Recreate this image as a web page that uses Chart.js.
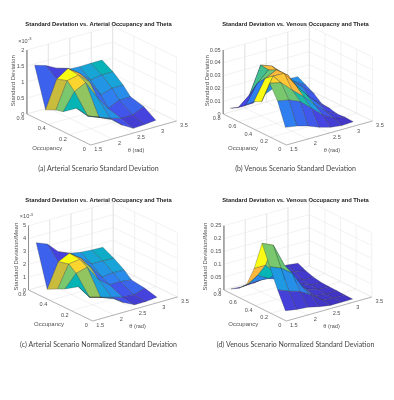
<!DOCTYPE html>
<html>
<head>
<meta charset="utf-8">
<script src="https://cdn.jsdelivr.net/npm/chart.js@4"></script>
<style>
html, body { margin: 0; background: #fff; }
canvas { position: absolute; }
</style>
</head>
<body>
<canvas id="panelA" width="197" height="176" style="left:0;top:0"></canvas>
<canvas id="panelB" width="197" height="176" style="left:197px;top:0"></canvas>
<canvas id="panelC" width="197" height="176" style="left:0;top:176px"></canvas>
<canvas id="panelD" width="197" height="176" style="left:197px;top:176px"></canvas>
<script>
// measured grid
const thetaValues = [1.571, 1.833, 2.094, 2.356, 2.618, 2.880, 3.142];
const occArterial = [0.05, 0.1625, 0.2875, 0.356, 0.453, 0.556];
const occVenous = [0.05, 0.15, 0.25, 0.35, 0.45, 0.55, 0.65, 0.75];

const thetaTicks = [1.5, 2, 2.5, 3, 3.5];
const occTicksArterial = [0, 0.2, 0.4, 0.6];
const occTicksVenous = [0, 0.2, 0.4, 0.6, 0.8];
const zTicksA = [0, 0.5, 1, 1.5, 2];
const zTicksB = [0, 0.01, 0.02, 0.03, 0.04, 0.05];
const zTicksC = [0, 1, 2, 3, 4, 5];
const zTicksD = [0, 0.05, 0.1, 0.15, 0.2, 0.25];

// std dev, rows = occupancy, columns = theta
const zA = [
    [0.78, 0.66, 0.50, 0.22, 0.02, 0.04, 0.08],
    [0.86, 0.52, 0.38, 0.25, 0.15, 0.16, 0.32],
    [0.55, 1.08, 1.26, 0.72, 0.26, 0.42, 0.43],
    [0.49, 1.31, 1.39, 1.08, 0.57, 0.68, 0.68],
    [0.34, 1.20, 1.44, 1.19, 0.88, 0.94, 0.94],
    [1.57, 1.46, 1.28, 1.15, 1.13, 1.14, 1.14]
];
const zB = [
    [0.0116, 0.0102, 0.0078, 0.0043, 0.0018, 0.0007, 0.0013],
    [0.0292, 0.0275, 0.0238, 0.0161, 0.0084, 0.0034, 0.0017],
    [0.0400, 0.0380, 0.0298, 0.0222, 0.0132, 0.0056, 0.0013],
    [0.0226, 0.0402, 0.0398, 0.0283, 0.0180, 0.0090, 0.0027],
    [0.0196, 0.0353, 0.0394, 0.0331, 0.0189, 0.0099, 0.0035],
    [0.0140, 0.0284, 0.0364, 0.0313, 0.0224, 0.0159, 0.0083],
    [0.0088, 0.0162, 0.0372, 0.0340, 0.0258, 0.0168, 0.0118],
    [0.0053, 0.0041, 0.0043, 0.0083, 0.0124, 0.0157, 0.0153]
];
const zC = [
    [1.57, 1.33, 1.00, 0.43, 0.02, 0.02, 0.11],
    [1.95, 0.88, 0.63, 0.39, 0.15, 0.09, 0.36],
    [1.27, 2.24, 2.47, 1.29, 0.61, 0.62, 0.51],
    [0.99, 2.69, 2.81, 1.94, 0.93, 1.04, 1.00],
    [0.58, 2.48, 2.89, 2.26, 1.57, 1.56, 1.53],
    [3.79, 3.44, 2.60, 2.23, 2.07, 2.00, 1.97]
];
const zD = [
    [0.029, 0.022, 0.018, 0.008, 0.001, 0.001, 0.001],
    [0.095, 0.078, 0.064, 0.039, 0.007, 0.002, 0.002],
    [0.170, 0.152, 0.120, 0.050, 0.008, 0.002, 0.003],
    [0.246, 0.227, 0.137, 0.060, 0.019, 0.006, 0.004],
    [0.134, 0.134, 0.090, 0.052, 0.027, 0.008, 0.005],
    [0.054, 0.080, 0.055, 0.039, 0.025, 0.012, 0.011],
    [0.026, 0.033, 0.034, 0.037, 0.035, 0.030, 0.021],
    [0.008, 0.005, 0.006, 0.017, 0.033, 0.040, 0.035]
];

// colour level of each facet, 0..1 along the colormap
const levelA = [
    [0.40, 0.35, 0.28, 0.14, 0.08, 0.10],
    [0.47, 0.66, 0.36, 0.30, 0.15, 0.19],
    [0.62, 0.93, 0.68, 0.20, 0.25, 0.29],
    [0.75, 1.00, 0.87, 0.28, 0.32, 0.37],
    [0.18, 0.10, 0.18, 0.32, 0.38, 0.46]
];
const levelB = [
    [0.25, 0.20, 0.16, 0.11, 0.08, 0.06],
    [0.62, 0.60, 0.50, 0.33, 0.15, 0.09],
    [0.93, 0.90, 0.87, 0.50, 0.22, 0.11],
    [1.00, 0.87, 0.87, 0.47, 0.20, 0.13],
    [0.25, 0.60, 0.87, 0.87, 0.30, 0.16],
    [0.12, 0.55, 0.88, 0.85, 0.30, 0.20],
    [0.06, 0.08, 0.30, 0.30, 0.32, 0.30]
];
const levelC = [
    [0.40, 0.35, 0.28, 0.14, 0.08, 0.10],
    [0.47, 0.66, 0.36, 0.30, 0.15, 0.19],
    [0.62, 0.93, 0.68, 0.20, 0.25, 0.29],
    [0.75, 1.00, 0.87, 0.28, 0.32, 0.37],
    [0.18, 0.10, 0.18, 0.32, 0.38, 0.42]
];
const levelD = [
    [0.09, 0.08, 0.07, 0.06, 0.05, 0.05],
    [0.33, 0.30, 0.26, 0.13, 0.06, 0.05],
    [0.62, 0.60, 0.47, 0.20, 0.07, 0.06],
    [1.00, 0.62, 0.38, 0.15, 0.07, 0.06],
    [0.87, 0.47, 0.25, 0.12, 0.08, 0.07],
    [0.42, 0.28, 0.20, 0.12, 0.08, 0.07],
    [0.09, 0.08, 0.07, 0.08, 0.08, 0.07]
];

const titles = [
    "Standard Deviation vs. Arterial Occupancy and Theta",
    "Standard Deviation vs. Venous Occupacny and Theta",
    "Standard Deviation vs. Arterial Occupancy and Theta",
    "Standard Deviation vs. Venous Occupacny and Theta"
];
const captions = [
    "(a) Arterial Scenario Standard Deviation",
    "(b) Venous Scenario Standard Deviation",
    "(c) Arterial Scenario Normalized Standard Deviation",
    "(d) Venous Scenario Normalized Standard Deviation"
];

const colorStops = [
    [0, 62, 38, 168], [0.12, 71, 72, 232], [0.25, 47, 127, 240], [0.35, 28, 159, 224],
    [0.47, 5, 181, 181], [0.62, 122, 200, 110], [0.75, 201, 188, 60],
    [0.87, 254, 184, 60], [0.93, 251, 213, 46], [1, 249, 251, 21]
];

function levelColor(t) {
    let k = 0;
    while (k < colorStops.length - 2 && t > colorStops[k + 1][0]) k++;
    const a = colorStops[k], b = colorStops[k + 1];
    const f = (t - a[0]) / (b[0] - a[0]);
    const c = [1, 2, 3].map(n => Math.round(a[n] + (b[n] - a[n]) * f));
    return `rgb(${c[0]},${c[1]},${c[2]})`;
}

function drawPanel(id, cfg) {
    const { box, occ, occTicks, occMax, zTicks, zMax, z, level, yLabel, exponent, title, caption } = cfg;

    const project = (theta, o, val) => {
        const u = (theta - 1.5) / 2, v = o / occMax, w = val / zMax;
        return {
            x: box.front[0] + u * (box.right[0] - box.front[0]) + v * (box.left[0] - box.front[0]),
            y: box.front[1] + u * (box.right[1] - box.front[1]) + v * (box.left[1] - box.front[1]) - w * box.height
        };
    };
    const polyline = (data, color, width, order) => ({
        type: 'line', data, borderColor: color, borderWidth: width, pointRadius: 0,
        fill: false, tension: 0, clip: false, order
    });

    const datasets = [];

    // facets, nearest first since chart.js paints the first dataset last
    for (let i = 0; i < occ.length - 1; i++) {
        for (let j = 0; j < thetaValues.length - 1; j++) {
            datasets.push({
                type: 'line',
                data: [
                    project(thetaValues[j], occ[i], z[i][j]),
                    project(thetaValues[j + 1], occ[i], z[i][j + 1]),
                    project(thetaValues[j + 1], occ[i + 1], z[i + 1][j + 1]),
                    project(thetaValues[j], occ[i + 1], z[i + 1][j]),
                    project(thetaValues[j], occ[i], z[i][j])
                ],
                backgroundColor: levelColor(level[i][j]),
                borderColor: 'rgba(30,30,30,0.5)',
                borderWidth: 0.5,
                pointRadius: 0,
                tension: 0,
                fill: 'shape',
                clip: false,
                order: 1
            });
        }
    }

    // axis lines
    datasets.push(polyline([project(1.5, occMax, zMax), project(1.5, occMax, 0), project(1.5, 0, 0), project(3.5, 0, 0)], '#8a8a8a', 0.6, 2));

    // walls and floor
    const gridColor = '#e4e4e4';
    zTicks.forEach(t => {
        datasets.push(polyline([project(1.5, occMax, t), project(3.5, occMax, t), project(3.5, 0, t)], gridColor, 0.5, 3));
    });
    thetaTicks.forEach(t => {
        datasets.push(polyline([project(t, occMax, zMax), project(t, occMax, 0), project(t, 0, 0)], gridColor, 0.5, 3));
    });
    occTicks.forEach(t => {
        datasets.push(polyline([project(1.5, t, 0), project(3.5, t, 0), project(3.5, t, zMax)], gridColor, 0.5, 3));
    });

    const axisText = {
        id: 'axisText',
        afterDraw(chart) {
            const { ctx, scales } = chart;
            const put = (text, p, dx, dy, align, size) => {
                ctx.textAlign = align;
                ctx.font = `${size || 5.6}px "Liberation Sans"`;
                ctx.fillText(text, scales.x.getPixelForValue(p.x) + dx, scales.y.getPixelForValue(p.y) + dy);
            };
            ctx.save();
            ctx.fillStyle = '#505050';
            ctx.textBaseline = 'middle';
            thetaTicks.forEach(t => put(String(t), project(t, 0, 0), 7.5, 4.5, 'center'));
            occTicks.forEach(t => put(String(t), project(1.5, t, 0), -6.5, 4.5, 'center'));
            zTicks.forEach(t => put(String(t), project(1.5, occMax, t), -2.5, 0, 'right'));
            put('θ (rad)', project(2.5, 0, 0), 2.5, 17, 'center');
            put('Occupancy', project(1.5, occMax * 0.4, 0), -18, 15.5, 'center', 6);
            if (exponent) {
                const top = project(1.5, occMax, zMax);
                put('×10', top, -4, -9, 'center');
                put('-3', top, 1, -11, 'left', 4);
            }
            const mid = project(1.5, occMax, zMax * 0.52);
            ctx.save();
            ctx.translate(scales.x.getPixelForValue(mid.x) - cfg.yLabelGap, scales.y.getPixelForValue(mid.y));
            ctx.rotate(-Math.PI / 2);
            ctx.textAlign = 'center';
            ctx.font = '6px "Liberation Sans"';
            ctx.fillText(yLabel, 0, 0);
            ctx.restore();
            ctx.restore();
        }
    };

    const chart = new Chart(document.getElementById(id), {
        type: 'scatter',
        data: { datasets },
        plugins: [axisText],
        options: {
            responsive: false,
            animation: false,
            showLine: true,
            layout: { padding: 0 },
            scales: {
                x: { display: false, min: 0, max: 197 },
                y: { display: false, min: 0, max: 176, reverse: true }
            },
            plugins: {
                legend: { display: false },
                tooltip: { enabled: false },
                title: {
                    display: true, text: title, color: '#222',
                    font: { family: '"Liberation Sans"', size: 5.8, weight: 'bold' },
                    padding: { top: 20.5, bottom: 0 }
                },
                subtitle: {
                    display: true, position: 'bottom', text: caption, color: '#444',
                    font: { family: 'Lato', size: 7 },
                    padding: { top: 0, bottom: 2.8 }
                }
            }
        }
    });
    // title and caption take room, so make y scale units equal canvas pixels
    chart.options.scales.y.min = chart.chartArea.top;
    chart.options.scales.y.max = chart.chartArea.bottom;
    chart.update();
}

drawPanel('panelA', {
    box: { front: [90.7, 145], right: [176.7, 121], left: [26.7, 114], height: 64 },
    occ: occArterial, occTicks: occTicksArterial, occMax: 0.6,
    zTicks: zTicksA, zMax: 2, z: zA, level: levelA,
    yLabel: 'Standard Deviation', yLabelGap: 14, exponent: true, title: titles[0], caption: captions[0]
});
drawPanel('panelB', {
    box: { front: [89.3, 145], right: [175.7, 121], left: [26, 114], height: 64 },
    occ: occVenous, occTicks: occTicksVenous, occMax: 0.8,
    zTicks: zTicksB, zMax: 0.05, z: zB, level: levelB,
    yLabel: 'Standard Deviation', yLabelGap: 16, exponent: false, title: titles[1], caption: captions[1]
});
drawPanel('panelC', {
    box: { front: [92.7, 145], right: [177.7, 121], left: [28.3, 114], height: 64.3 },
    occ: occArterial, occTicks: occTicksArterial, occMax: 0.6,
    zTicks: zTicksC, zMax: 5, z: zC, level: levelC,
    yLabel: 'Standard Deviation/Mean', yLabelGap: 12, exponent: true, title: titles[2], caption: captions[2]
});
drawPanel('panelD', {
    box: { front: [89.3, 145], right: [175, 121], left: [26.7, 114], height: 64.3 },
    occ: occVenous, occTicks: occTicksVenous, occMax: 0.8,
    zTicks: zTicksD, zMax: 0.25, z: zD, level: levelD,
    yLabel: 'Standard Deviation/Mean', yLabelGap: 19, exponent: false, title: titles[3], caption: captions[3]
});
</script>
</body>
</html>
